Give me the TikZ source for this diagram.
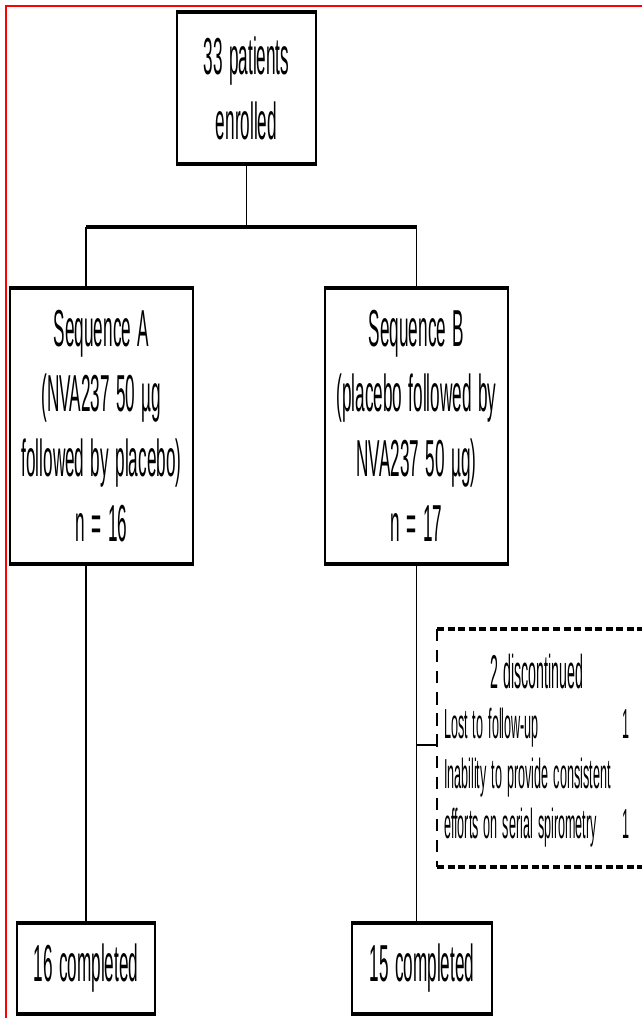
\documentclass[tikz,border=0pt]{standalone}
\usepackage{fontspec}
\setmainfont{Liberation Sans}
\newfontfamily\narrowfont[FakeStretch=0.33]{Liberation Sans}
\newfontfamily\slimfont[FakeStretch=0.30]{Liberation Sans}
\newcommand\bigtext{\narrowfont\fontsize{29.6}{37}\selectfont\spaceskip=3.7pt plus 1pt minus 0.5pt}
\newcommand\smalltext{\slimfont\fontsize{23.9}{28.5}\selectfont}
\newcommand\tightspace{\spaceskip=2.9pt plus 1pt minus 0.5pt\xspaceskip=2.9pt}
\newcommand\rfill{\hskip 0pt plus 1filll}

\begin{document}
\begin{tikzpicture}[x=0.02cm, y=-0.02cm,
    box/.style={draw, line width=0.9pt, inner sep=0pt, align=center, font=\bigtext},
    thickline/.style={line width=2.3pt},
    link/.style={line width=0.9pt},
    dashtop/.style={line width=2.1pt, dash pattern=on 4pt off 2pt},
    dashside/.style={line width=0.8pt, dash pattern=on 7pt off 5pt}]
    \useasboundingbox (0,0) rectangle (642,1018);
    \draw[red, line width=1.1pt] (642,6) -- (6,6) -- (6,1018);

    \node[box, minimum width=2.78cm, minimum height=3cm] (enrolled) at (246.5,88)
        {33 patients\\enrolled};
    \node[box, minimum width=3.66cm, minimum height=5.48cm] (seqA) at (101.5,426)
        {Sequence A\\(NVA237 50 µg\\followed by placebo)\\n = 16};
    \node[box, minimum width=3.66cm, minimum height=5.48cm] (seqB) at (416.5,426)
        {Sequence B\\(placebo followed by\\NVA237 50 µg)\\n = 17};
    \node[box, minimum width=2.76cm, minimum height=1.78cm] (doneA) at (86,968.5)
        {16 completed};
    \node[box, minimum width=2.8cm, minimum height=1.78cm] (doneB) at (422,968.5)
        {15 completed};
    \foreach \n in {enrolled,seqA,seqB,doneA,doneB}{
        \draw[thickline] (\n.north west) -- (\n.north east);
        \draw[thickline] (\n.south west) -- (\n.south east);
    }

    \coordinate (barL) at (86,227);
    \coordinate (barR) at (416.5,227);
    \draw[link] (enrolled.south) -- (enrolled.south |- barL);
    \draw[thickline] (barL) -- (barR);
    \draw[link] (barL) -- (barL |- seqA.north);
    \draw[link] (barR) -- (seqB.north);
    \draw[link] (barL |- seqA.south) -- (doneA.north);
    \draw[link] (seqB.south) -- (seqB.south |- doneB.north);

    % discontinued patients, frame runs off the right edge
    \node[font=\smalltext, text width=3.72cm, align=left, inner sep=0pt] (drop) at (537,751)
        {\tightspace\rfill{\fontsize{27}{28.5}\selectfont 2 discontinued}\rfill\null\\
         Lost to follow-up\rfill 1\\
         Inability to provide consistent\\
         efforts on serial spirometry\rfill 1};
    \coordinate (dTL) at (437,629);
    \coordinate (dBL) at (437,867);
    \coordinate (dTR) at (642,629);
    \coordinate (dBR) at (642,867);
    \coordinate (dStub) at (437,745);
    \draw[dashtop] (dTL) -- (dTR);
    \draw[dashtop] (dBL) -- (dBR);
    \draw[dashside] (dTL) -- (dBL);
    \draw[link, line width=1.1pt] (seqB.south |- dStub) -- (dStub);
\end{tikzpicture}
\end{document}
